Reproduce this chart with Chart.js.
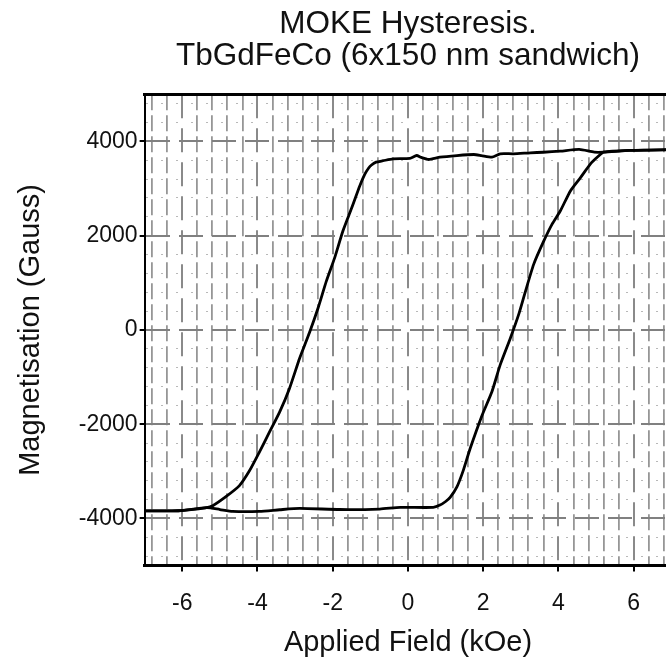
<!DOCTYPE html>
<html>
<head>
<meta charset="utf-8">
<script src="https://cdn.jsdelivr.net/npm/chart.js@4/dist/chart.umd.min.js"></script>
<style>
    html, body { margin: 0; padding: 0; background: #fff; overflow: hidden; }
    #wrap { width: 682px; height: 664px; }
</style>
</head>
<body>
<div id="wrap"><canvas id="myChart"></canvas></div>
<script>

var chartTitle = ['MOKE Hysteresis.', 'TbGdFeCo (6x150 nm sandwich)'];

// field sweeping down, +7 -> -7 kOe
var downField = [7.0, 6.4, 5.9, 5.2, 4.95, 4.55, 4.05, 3.6, 3.25, 2.8, 2.45, 2.23, 1.95, 1.75, 1.3, 0.85, 0.55, 0.35, 0.23, 0.05,
    -0.4, -0.66, -0.85, -0.97, -1.05, -1.15, -1.28, -1.5, -1.73, -1.95, -2.17, -2.39, -2.62, -2.88, -3.15, -3.41, -3.68,
    -3.95, -4.21, -4.48, -4.84, -5.19, -5.35, -6.1, -7.0];
var downMag = [3825, 3815, 3808, 3772, 3772, 3829, 3793, 3770, 3758, 3737, 3737, 3665, 3700, 3722, 3700, 3665, 3616, 3660, 3701, 3640,
    3630, 3590, 3560, 3500, 3430, 3300, 3060, 2580, 2100, 1530, 1035, 465, -60, -601, -1241, -1739, -2165,
    -2592, -2983, -3302, -3537, -3729, -3770, -3836, -3840];

// field sweeping up, -7 -> +7 kOe
var upField = [-7.0, -6.1, -5.35, -5.0, -4.66, -3.95, -3.41, -2.88, -1.81, -0.75, -0.21, 0.67, 0.85, 1.0, 1.12, 1.3, 1.47, 1.65,
    1.97, 2.23, 2.45, 2.72, 2.94, 3.1, 3.34, 3.61, 3.83, 4.05, 4.32, 4.59, 4.85, 5.05, 5.2, 5.9, 7.0];
var upMag = [-3840, -3836, -3770, -3810, -3850, -3850, -3815, -3787, -3810, -3800, -3765, -3765, -3716, -3640, -3552, -3330, -2980, -2521,
    -1809, -1312, -742, -175, 324, 760, 1391, 1888, 2244, 2528, 2955, 3238, 3524, 3680, 3772, 3808, 3825];

var xTickLabels = [-6, -4, -2, 0, 2, 4, 6];
var yTickLabels = [-4000, -2000, 0, 2000, 4000];

function toPoints(xs, ys) {
    return xs.map(function (x, i) { return { x: x, y: ys[i] }; });
}

function isMajor(v, list) {
    return list.some(function (t) { return Math.abs(t - v) < 1e-6; });
}

var font = 'Liberation Sans, Arial, sans-serif';

var chartArea = document.getElementById('myChart').getContext('2d');

var myChart = new Chart(chartArea, {
    type: 'scatter',
    data: {
        datasets: [{
            label: 'down',
            data: toPoints(downField, downMag),
            showLine: true,
            borderColor: '#000',
            borderWidth: 2.8,
            pointRadius: 0,
            tension: 0.2
        }, {
            label: 'up',
            data: toPoints(upField, upMag),
            showLine: true,
            borderColor: '#000',
            borderWidth: 2.8,
            pointRadius: 0,
            tension: 0.2
        }]
    },
    options: {
        responsive: true,
        maintainAspectRatio: false,
        animation: false,
        layout: { padding: 0 },
        plugins: {
            legend: { display: false },
            tooltip: { enabled: false },
            title: {
                display: true,
                fullSize: false,
                text: chartTitle,
                color: '#111',
                font: { family: font, size: 31.5, weight: 'normal', lineHeight: 1.02 },
                padding: { top: 8, bottom: 22 }
            }
        },
        scales: {
            x: {
                type: 'linear',
                position: 'bottom',
                min: -7,
                max: 7,
                afterBuildTicks: function (axis) {
                    var t = [];
                    for (var k = -17; k <= 17; k++) t.push({ value: Math.round(k * 4) / 10 });
                    axis.ticks = t;
                },
                ticks: {
                    color: '#111',
                    font: { family: font, size: 23 },
                    padding: 18,
                    autoSkip: false,
                    maxRotation: 0,
                    callback: function (v) { return isMajor(v, xTickLabels) ? String(Math.round(v)) : ''; }
                },
                grid: {
                    color: function (ctx) { return isMajor(ctx.tick.value, xTickLabels) ? '#8a8a8a' : '#969696'; },
                    lineWidth: function (ctx) { return isMajor(ctx.tick.value, xTickLabels) ? 2 : 1.8; },
                    tickColor: function (ctx) { return isMajor(ctx.tick.value, xTickLabels) ? '#000' : 'rgba(0,0,0,0)'; },
                    tickLength: 6,
                    tickWidth: 2
                },
                border: {
                    color: '#000',
                    width: 3,
                    dash: function (ctx) { return isMajor(ctx.tick ? ctx.tick.value : 1, xTickLabels) ? [24, 10] : [16, 5]; }
                },
                title: {
                    display: true,
                    text: 'Applied Field (kOe)',
                    color: '#111',
                    font: { family: font, size: 29 },
                    padding: { top: -10, bottom: 4 }
                }
            },
            x2: {
                type: 'linear',
                axis: 'x',
                position: 'top',
                min: -7,
                max: 7,
                ticks: { display: false },
                grid: { drawOnChartArea: false, drawTicks: false },
                border: { color: '#000', width: 3 }
            },
            y: {
                type: 'linear',
                min: -5000,
                max: 5000,
                afterBuildTicks: function (axis) {
                    var t = [];
                    for (var k = -12; k <= 12; k++) t.push({ value: k * 400 });
                    axis.ticks = t;
                },
                ticks: {
                    color: '#111',
                    font: { family: font, size: 23 },
                    padding: 2,
                    autoSkip: false,
                    callback: function (v) { return isMajor(v, yTickLabels) ? String(v) : ''; }
                },
                grid: {
                    color: function (ctx) { return isMajor(ctx.tick.value, yTickLabels) ? '#808080' : '#b8b8b8'; },
                    lineWidth: function (ctx) { return isMajor(ctx.tick.value, yTickLabels) ? 2 : 1; },
                    tickColor: function (ctx) { return isMajor(ctx.tick.value, yTickLabels) ? '#000' : 'rgba(0,0,0,0)'; },
                    tickLength: 5,
                    tickWidth: 2
                },
                border: {
                    color: '#000',
                    width: 2,
                    dash: function (ctx) { return isMajor(ctx.tick ? ctx.tick.value : 1, yTickLabels) ? [24, 9] : [2, 13]; }
                },
                title: {
                    display: true,
                    text: 'Magnetisation (Gauss)',
                    color: '#111',
                    font: { family: font, size: 29 },
                    padding: { top: 14, bottom: 28 }
                }
            }
        }
    }
});

</script>
</body>
</html>
